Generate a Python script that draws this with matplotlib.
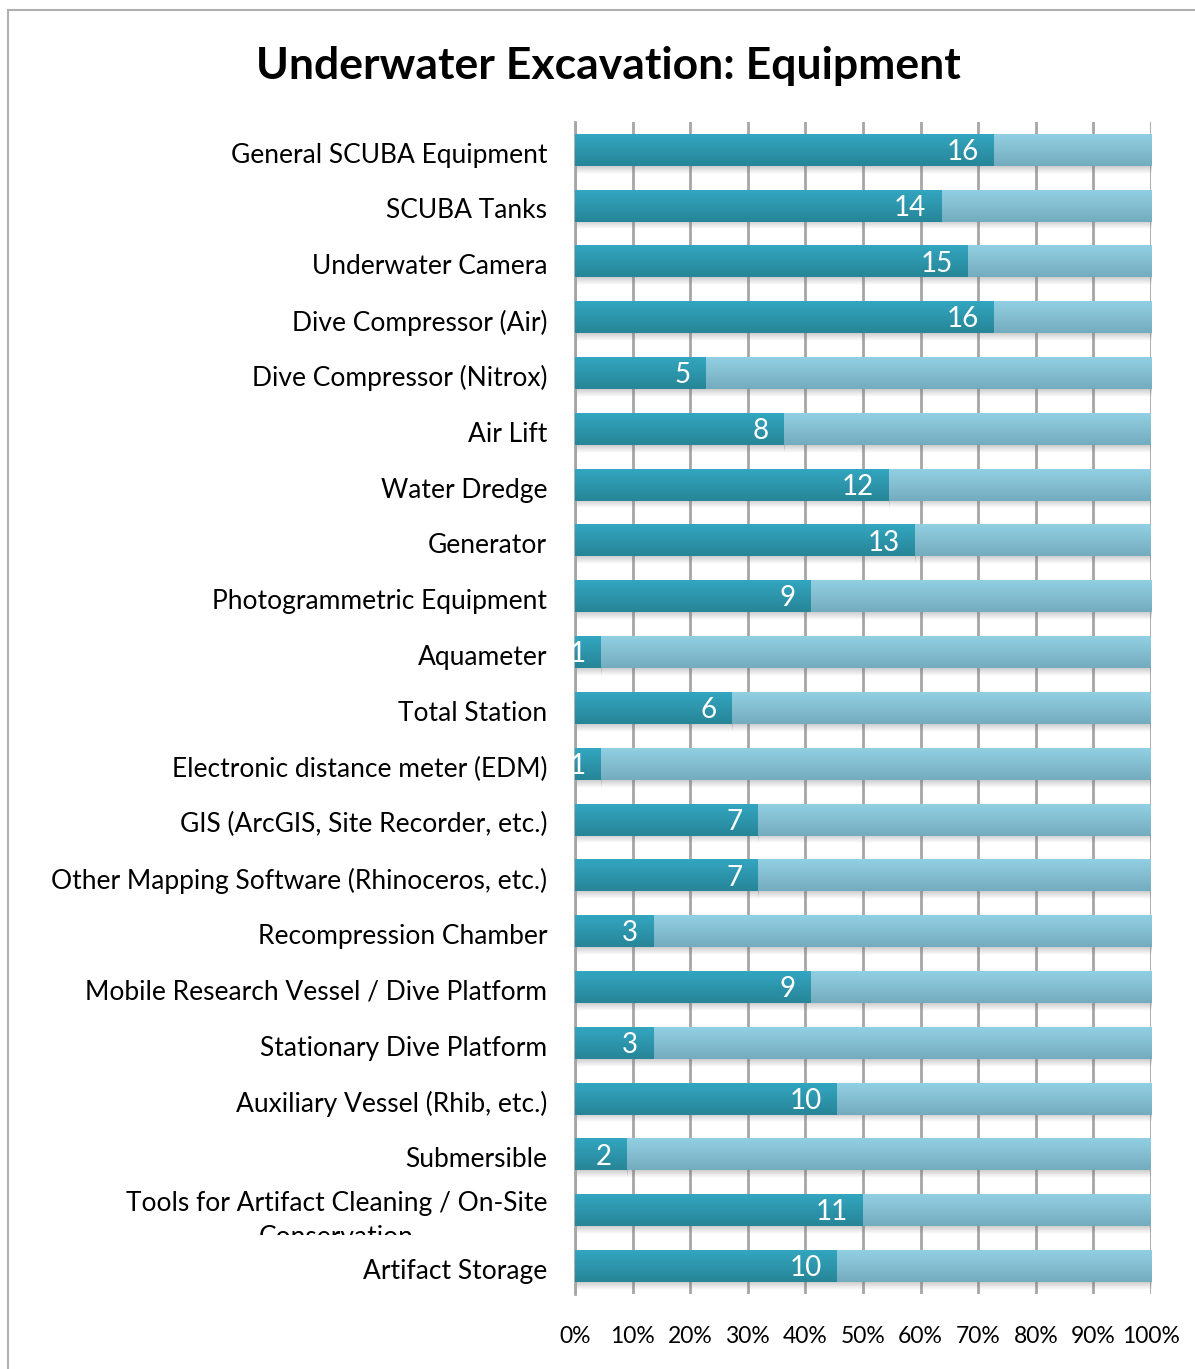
import numpy as np
import matplotlib
matplotlib.use("Agg")
import matplotlib.pyplot as plt
from matplotlib.patches import Rectangle
from matplotlib.transforms import Bbox, ScaledTranslation
from matplotlib.colors import to_rgb

plt.rcParams['font.family'] = ['Lato', 'DejaVu Sans']

categories = [
    "General SCUBA Equipment",
    "SCUBA Tanks",
    "Underwater Camera",
    "Dive Compressor (Air)",
    "Dive Compressor (Nitrox)",
    "Air Lift",
    "Water Dredge",
    "Generator",
    "Photogrammetric Equipment",
    "Aquameter",
    "Total Station",
    "Electronic distance meter (EDM)",
    "GIS (ArcGIS, Site Recorder, etc.)",
    "Other Mapping Software (Rhinoceros, etc.)",
    "Recompression Chamber",
    "Mobile Research Vessel / Dive Platform",
    "Stationary Dive Platform",
    "Auxiliary Vessel (Rhib, etc.)",
    "Submersible",
    "Tools for Artifact Cleaning / On-Site\nConservation",
    "Artifact Storage",
]
used = [16, 14, 15, 16, 5, 8, 12, 13, 9, 1, 6, 1, 7, 7, 3, 9, 3, 10, 2, 11, 10]
respondents = 22
not_used = [respondents - v for v in used]

dark_top, dark_bot = "#33a6c0", "#278597"
light_top, light_bot = "#93cfe2", "#74acbf"

W, H = 1195, 1369
fig = plt.figure(figsize=(W / 100, H / 100), dpi=100)
ax = fig.add_axes([575 / W, (H - 1294) / H, 576 / W, 1172 / H])

y = np.arange(len(categories))
pct_used = np.array(used) / respondents * 100
pct_rest = np.array(not_used) / respondents * 100
bh = 0.57

b1 = ax.barh(y, pct_used, height=bh, color=dark_top, zorder=3)
b2 = ax.barh(y, pct_rest, left=pct_used, height=bh, color=light_top, zorder=3)


def shade(bars, c_top, c_bot):
    # vertical gradient over each bar plus a soft shadow underneath
    grad = np.linspace(0, 1, 64)[:, None, None]
    rgb = (1 - grad) * np.array(to_rgb(c_top)) + grad * np.array(to_rgb(c_bot))
    sh = np.zeros((32, 1, 4))
    sh[..., :3] = 0.45
    sh[:, 0, 3] = np.linspace(0.35, 0.0, 32)
    for p in bars:
        x0, y0 = p.get_x(), p.get_y()
        w, h = p.get_width(), p.get_height()
        if w <= 0:
            continue
        ax.imshow(rgb, extent=(x0, x0 + w, y0 + h, y0), aspect='auto',
                  zorder=3.5, interpolation='bilinear')
        ax.imshow(sh, extent=(x0, x0 + w, y0 + h + 0.14, y0 + h), aspect='auto',
                  zorder=2.5, interpolation='bilinear')


shade(b1, dark_top, dark_bot)
shade(b2, light_top, light_bot)

for yi, v, p in zip(y, used, pct_used):
    ax.annotate(str(v), (p, yi), xytext=(-11, -1.5), textcoords='offset points',
                ha='right', va='center', color='white', fontsize=20, zorder=5)

ax.set_xlim(0, 100)
ax.set_ylim(len(categories) - 0.5, -0.5)
ax.set_xticks(np.arange(0, 101, 10))
ax.set_xticklabels([f"{t}%" for t in range(0, 101, 10)], fontsize=16.5)
ax.set_yticks(y)
ax.set_yticklabels(categories, fontsize=19, multialignment='center',
                   linespacing=1.45)
ax.tick_params(axis='x', length=0, pad=23)
ax.tick_params(axis='y', length=0, pad=20)
ax.grid(axis='x', color='#a6a6a6', linewidth=2, zorder=1)
for s in ['top', 'right', 'bottom']:
    ax.spines[s].set_visible(False)
ax.spines['left'].set_color('#a6a6a6')
ax.spines['left'].set_linewidth(2)

fig.canvas.draw()
# nudge category labels down a touch
shift = ScaledTranslation(0, -2 / 72, fig.dpi_scale_trans)
for t in ax.get_yticklabels():
    t.set_transform(t.get_transform() + shift)
# the wrapped label gets cut off by the next row
lbl = ax.get_yticklabels()[19]
lbl.set_y(19.17)
lbl.set_clip_box(Bbox.from_extents(0, H - 1235, W, H))
lbl.set_clip_on(True)

fig.text(608 / W, 1 - 66 / H, "Underwater Excavation: Equipment",
         ha='center', va='center', fontsize=32, fontweight='bold')

fig.patches.append(Rectangle((8 / W, -0.05), 1.2, 1 - 10 / H + 0.05,
                             transform=fig.transFigure, fill=False,
                             edgecolor='#b0b0b0', linewidth=1.5))

fig.savefig("out.png", dpi=100)
